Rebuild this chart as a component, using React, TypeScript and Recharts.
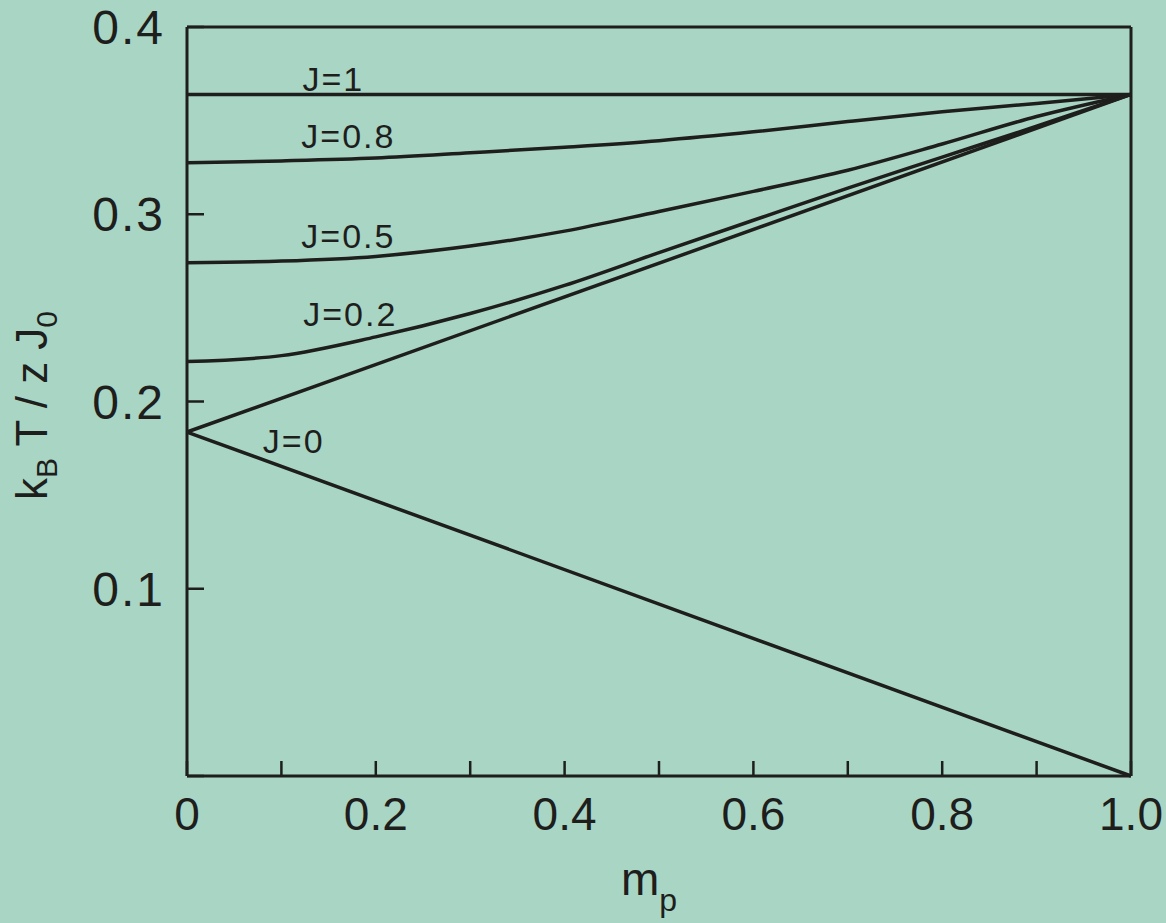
import React from "react";
import { LineChart, Line, XAxis, YAxis, ReferenceDot, ReferenceLine } from "recharts";

// m_p values sampled along the x axis
const mValues = [0, 0.1, 0.2, 0.3, 0.4, 0.5, 0.6, 0.7, 0.8, 0.9, 1.0];

// k_B T / z J_0
const j08 = [0.3275, 0.3285, 0.33, 0.3328, 0.3358, 0.3393, 0.344, 0.3495, 0.3547, 0.3592, 0.364];
const j05 = [0.2741, 0.275, 0.2775, 0.283, 0.291, 0.3015, 0.3122, 0.3235, 0.3375, 0.3522, 0.364];
const j02 = [0.2213, 0.2245, 0.2345, 0.247, 0.262, 0.2795, 0.2968, 0.314, 0.3305, 0.347, 0.364];

// straight lines: end points only
const j1Ends = [0.364, 0.364];
const j0UpperEnds = [0.1837, 0.364];
const j0LowerEnds = [0.1837, 0];
const endM = [0, 1.0];

const xTicks = [0, 0.1, 0.2, 0.3, 0.4, 0.5, 0.6, 0.7, 0.8, 0.9, 1.0];
const xTickLabels = ["0", "", "0.2", "", "0.4", "", "0.6", "", "0.8", "", "1.0"];
const yTicks = [0, 0.1, 0.2, 0.3, 0.4];
const yTickLabels = ["", "0.1", "0.2", "0.3", "0.4"];

const curveLabels = [
  { text: "J=1", m: 0.155, v: 0.3722 },
  { text: "J=0.8", m: 0.171, v: 0.3418 },
  { text: "J=0.5", m: 0.171, v: 0.2884 },
  { text: "J=0.2", m: 0.173, v: 0.2467 },
  { text: "J=0", m: 0.113, v: 0.1789 }
];

const toRows = (xs: number[], ys: number[]) => xs.map((m, i) => ({ m, v: ys[i] }));

const INK = "#1e1e1c";
const FONT = "'Liberation Sans', Arial, sans-serif";

function XLabel(props: any) {
  const vb = props.viewBox || { x: 187, y: 776, width: 944 };
  const cx = vb.x + vb.width / 2;
  const y = vb.y + 119;
  return (
    <text x={cx - 10} y={y} textAnchor="middle" fontFamily={FONT} fontSize={46} fill={INK}>
      m
      <tspan fontSize={32} dy={16}>p</tspan>
    </text>
  );
}

function YLabel(props: any) {
  const vb = props.viewBox || { x: 0, y: 27, height: 749 };
  const x = 47;
  const y = vb.y + vb.height / 2 + 4;
  return (
    <text
      x={x}
      y={y}
      textAnchor="middle"
      transform={`rotate(-90, ${x}, ${y})`}
      fontFamily={FONT}
      fontSize={44}
      fill={INK}
    >
      k
      <tspan fontSize={30} dy={10}>B</tspan>
      <tspan dy={-10}> T / z J</tspan>
      <tspan fontSize={30} dy={10}>0</tspan>
    </text>
  );
}

export default function App() {
  return (
    <div
      style={{
        position: "absolute",
        top: 0,
        left: 0,
        width: 1166,
        height: 923,
        background: "#a9d5c5"
      }}
    >
      <LineChart width={1166} height={923} margin={{ top: 27, right: 35, left: 0, bottom: 0 }}>
        <XAxis
          dataKey="m"
          type="number"
          domain={[0, 1]}
          ticks={xTicks}
          interval={0}
          height={147}
          tickSize={-15}
          tickMargin={36}
          tickFormatter={(v: number) => xTickLabels[xTicks.indexOf(v)] ?? ""}
          tick={{ fill: INK, fontSize: 46, fontFamily: FONT }}
          stroke={INK}
          axisLine={{ stroke: INK, strokeWidth: 3 }}
          tickLine={{ stroke: INK, strokeWidth: 2.5 }}
          label={<XLabel />}
        />
        <YAxis
          type="number"
          domain={[0, 0.4]}
          ticks={yTicks}
          interval={0}
          width={187}
          tickSize={-17}
          tickMargin={39}
          tickFormatter={(v: number) => yTickLabels[yTicks.indexOf(v)] ?? ""}
          tick={{ fill: INK, fontSize: 48, fontFamily: FONT, letterSpacing: 2 }}
          stroke={INK}
          axisLine={{ stroke: INK, strokeWidth: 3 }}
          tickLine={{ stroke: INK, strokeWidth: 2.5 }}
          label={<YLabel />}
        />
        <ReferenceLine y={0.4} stroke={INK} strokeWidth={3} ifOverflow="visible" />
        <ReferenceLine x={1} stroke={INK} strokeWidth={3} ifOverflow="visible" />
        <Line data={toRows(endM, j1Ends)} dataKey="v" type="linear" stroke={INK} strokeWidth={3.5} dot={false} isAnimationActive={false} />
        <Line data={toRows(mValues, j08)} dataKey="v" type="monotone" stroke={INK} strokeWidth={3.5} dot={false} isAnimationActive={false} />
        <Line data={toRows(mValues, j05)} dataKey="v" type="monotone" stroke={INK} strokeWidth={3.5} dot={false} isAnimationActive={false} />
        <Line data={toRows(mValues, j02)} dataKey="v" type="monotone" stroke={INK} strokeWidth={3.5} dot={false} isAnimationActive={false} />
        <Line data={toRows(endM, j0UpperEnds)} dataKey="v" type="linear" stroke={INK} strokeWidth={3.5} dot={false} isAnimationActive={false} />
        <Line data={toRows(endM, j0LowerEnds)} dataKey="v" type="linear" stroke={INK} strokeWidth={3.5} dot={false} isAnimationActive={false} />
        {curveLabels.map((l) => (
          <ReferenceDot
            key={l.text}
            x={l.m}
            y={l.v}
            r={0}
            fill="none"
            stroke="none"
            label={{
              value: l.text,
              position: "center",
              fill: INK,
              fontSize: 34,
              fontFamily: FONT,
              letterSpacing: 2
            }}
          />
        ))}
      </LineChart>
    </div>
  );
}
